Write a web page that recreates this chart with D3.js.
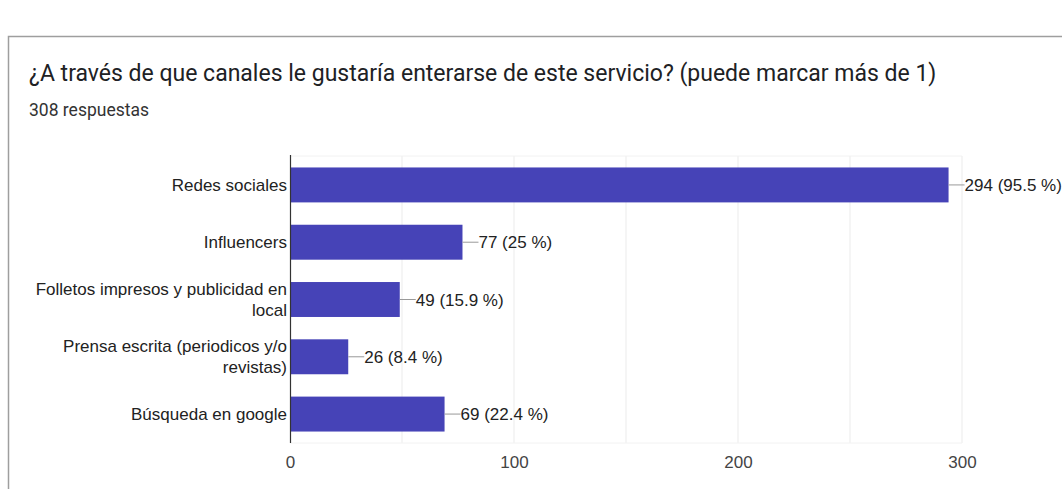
<!DOCTYPE html>
<html>
<head>
<meta charset="utf-8">
<script src="https://cdn.jsdelivr.net/npm/d3@7"></script>
<style>
  html, body { margin: 0; padding: 0; background: #fff; }
  svg { display: block; }
</style>
</head>
<body>
<svg id="chart" width="1062" height="489"></svg>
<script>
// Survey answers: channels through which respondents would like to hear about the service
const categories = [
  ["Redes sociales"],
  ["Influencers"],
  ["Folletos impresos y publicidad en", "local"],
  ["Prensa escrita (periodicos y/o", "revistas)"],
  ["Búsqueda en google"]
];
const counts = [294, 77, 49, 26, 69];
const percents = ["95.5", "25", "15.9", "8.4", "22.4"];
const xTicks = [0, 100, 200, 300];
const gridValues = [50, 100, 150, 200, 250, 300];
const titleText = "¿A través de que canales le gustaría enterarse de este servicio? (puede marcar más de 1)";
const subtitleText = "308 respuestas";

const svg = d3.select("#chart");

// Card frame (continues past the right and bottom edges)
svg.append("path")
  .attr("d", "M8.5,489 L8.5,36.5 L1062,36.5")
  .attr("fill", "none")
  .attr("stroke", "#9e9e9e")
  .attr("stroke-width", 1.5);

svg.append("text")
  .attr("x", 29).attr("y", 81)
  .attr("font-family", "Roboto, 'Noto Sans', sans-serif")
  .attr("font-size", 23)
  .attr("fill", "#202124")
  .text(titleText);

svg.append("text")
  .attr("x", 29).attr("y", 116)
  .attr("font-family", "Roboto, 'Noto Sans', sans-serif")
  .attr("font-size", 17.5)
  .attr("fill", "#333")
  .text(subtitleText);

const plot = { left: 290, right: 962, top: 156, bottom: 443 };

const x = d3.scaleLinear().domain([0, 300]).range([plot.left, plot.right]);
const y = d3.scaleBand()
  .domain(d3.range(counts.length))
  .range([plot.top, plot.bottom])
  .paddingInner(0.39)
  .paddingOuter(0.2);

const g = svg.append("g");

// Gridlines
g.selectAll("line.grid")
  .data(gridValues)
  .join("line")
  .attr("class", "grid")
  .attr("x1", d => x(d)).attr("x2", d => x(d))
  .attr("y1", plot.top).attr("y2", plot.bottom)
  .attr("stroke", "#ebebeb")
  .attr("stroke-width", 1);

g.selectAll("line.hframe")
  .data([plot.top, plot.bottom])
  .join("line")
  .attr("class", "hframe")
  .attr("x1", plot.left).attr("x2", plot.right)
  .attr("y1", d => d).attr("y2", d => d)
  .attr("stroke", "#f2f2f2");

// Bars
g.selectAll("rect.bar")
  .data(counts)
  .join("rect")
  .attr("class", "bar")
  .attr("x", x(0))
  .attr("y", (d, i) => y(i))
  .attr("width", d => x(d) - x(0))
  .attr("height", y.bandwidth())
  .attr("fill", "#4643b7");

// Leader lines and value labels
const labelFont = "Arial, 'Liberation Sans', sans-serif";
const fs = 17;
g.selectAll("line.leader")
  .data(counts)
  .join("line")
  .attr("class", "leader")
  .attr("x1", d => x(d)).attr("x2", d => x(d) + 16)
  .attr("y1", (d, i) => y(i) + y.bandwidth() / 2)
  .attr("y2", (d, i) => y(i) + y.bandwidth() / 2)
  .attr("stroke", "#999")
  .attr("stroke-width", 1);

g.selectAll("text.value")
  .data(counts)
  .join("text")
  .attr("class", "value")
  .attr("x", d => x(d) + 16)
  .attr("y", (d, i) => y(i) + y.bandwidth() / 2 + 6)
  .attr("font-family", labelFont)
  .attr("font-size", fs)
  .attr("fill", "#222")
  .text((d, i) => `${d} (${percents[i]} %)`);

// Category labels (wrapped lines)
const catText = g.selectAll("text.cat")
  .data(categories)
  .join("text")
  .attr("class", "cat")
  .attr("text-anchor", "end")
  .attr("font-family", labelFont)
  .attr("font-size", fs)
  .attr("fill", "#222");

catText.each(function(lines, i) {
  const cy = y(i) + y.bandwidth() / 2;
  const lh = 21;
  const start = cy - (lines.length - 1) * lh / 2 + 6;
  d3.select(this).selectAll("tspan")
    .data(lines)
    .join("tspan")
    .attr("x", plot.left - 3)
    .attr("y", (d, k) => start + k * lh)
    .text(d => d);
});

// Baseline at zero
g.append("line")
  .attr("x1", x(0) + 0.5).attr("x2", x(0) + 0.5)
  .attr("y1", plot.top - 1).attr("y2", plot.bottom)
  .attr("stroke", "#333")
  .attr("stroke-width", 1.2);

// X axis tick labels
const xAxis = d3.axisBottom(x).tickValues(xTicks).tickSize(0).tickPadding(0);
const ax = svg.append("g")
  .attr("transform", `translate(0,${plot.bottom + 25})`)
  .call(xAxis);
ax.select(".domain").remove();
ax.selectAll("text")
  .attr("font-family", labelFont)
  .attr("font-size", fs)
  .attr("fill", "#444")
  .attr("dy", 0);
</script>
</body>
</html>
